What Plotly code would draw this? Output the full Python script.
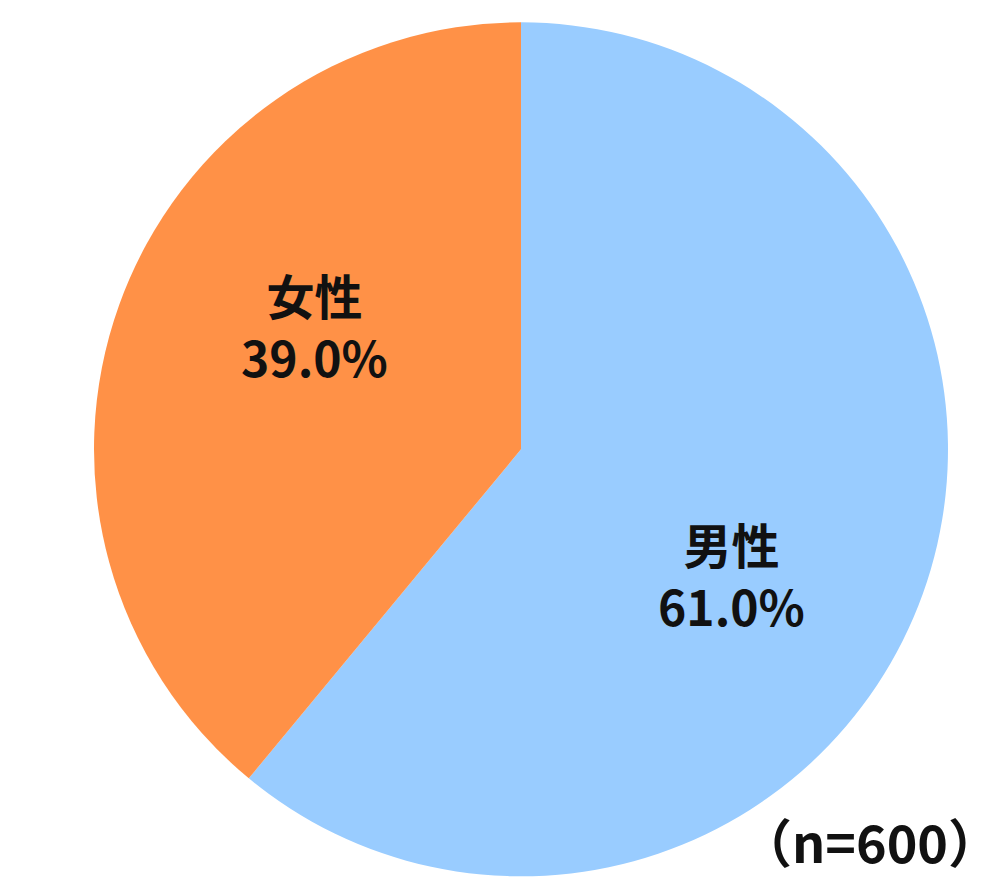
import plotly.graph_objects as go

# データ
labels = ["男性", "女性"]
values = [61.0, 39.0]
colors = ["#99CCFF", "#FF9147"]
sample_note = "（n=600）"

FONT = "Noto Sans CJK JP"
TEXT_COLOR = "#111111"

# ラベルの配置（paper座標）
label_pos = {
    "男性": (0.723, 0.363),
    "女性": (0.306, 0.643),
}

fig = go.Figure()

fig.add_trace(
    go.Pie(
        labels=labels,
        values=values,
        sort=False,
        direction="clockwise",
        rotation=0,
        marker=dict(colors=colors, line=dict(width=0)),
        textinfo="none",
        domain=dict(x=[0.086, 0.940], y=[0.021, 0.985]),
        showlegend=False,
        hoverinfo="label+percent",
    )
)

for lab, val in zip(labels, values):
    x, y = label_pos[lab]
    fig.add_annotation(
        text=f"<b>{lab}<br>{val:.1f}%</b>",
        x=x, y=y,
        xref="paper", yref="paper",
        xanchor="center", yanchor="middle",
        showarrow=False,
        font=dict(family=FONT, size=48, color=TEXT_COLOR),
    )

fig.add_annotation(
    text=f"<b>{sample_note}</b>",
    x=0.994, y=0.062,
    xref="paper", yref="paper",
    xanchor="right", yanchor="middle",
    showarrow=False,
    font=dict(family=FONT, size=52, color=TEXT_COLOR),
)

fig.update_layout(
    width=1000,
    height=888,
    margin=dict(l=0, r=0, t=0, b=0),
    paper_bgcolor="white",
    plot_bgcolor="white",
)

fig.write_html("out.html")
